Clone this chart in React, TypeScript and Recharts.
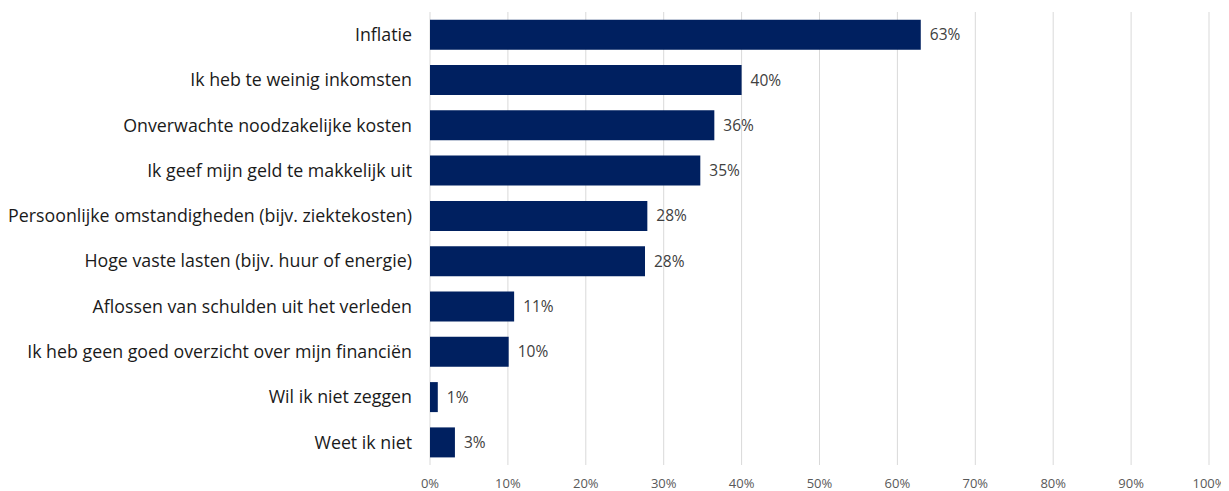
import { BarChart, Bar, XAxis, YAxis, CartesianGrid, LabelList } from 'recharts';

const categories = [
  'Inflatie',
  'Ik heb te weinig inkomsten',
  'Onverwachte noodzakelijke kosten',
  'Ik geef mijn geld te makkelijk uit',
  'Persoonlijke omstandigheden (bijv. ziektekosten)',
  'Hoge vaste lasten (bijv. huur of energie)',
  'Aflossen van schulden uit het verleden',
  'Ik heb geen goed overzicht over mijn financiën',
  'Wil ik niet zeggen',
  'Weet ik niet',
];

const shares = [63, 40, 36.5, 34.7, 27.9, 27.6, 10.8, 10.1, 1.0, 3.2];
const labels = ['63%', '40%', '36%', '35%', '28%', '28%', '11%', '10%', '1%', '3%'];
const xTicks = [0, 10, 20, 30, 40, 50, 60, 70, 80, 90, 100];

const data = categories.map((name, i) => ({ name, value: shares[i], label: labels[i] }));

const font = '"Open Sans", Lato, sans-serif';

export default function App() {
  return (
    <div style={{ fontFamily: font }}>
      <BarChart
        width={1221}
        height={483}
        data={data}
        layout="vertical"
        margin={{ top: 4, right: 20, left: 0, bottom: 0 }}
        barCategoryGap="17%"
      >
        <CartesianGrid horizontal={false} stroke="#d9d9d9" strokeWidth={1} />
        <XAxis
          type="number"
          domain={[0, 100]}
          ticks={xTicks}
          tickFormatter={(v) => `${v}%`}
          axisLine={false}
          tickLine={false}
          height={26}
          tickMargin={8}
          tick={{ fill: '#595959', fontSize: 13, fontFamily: font }}
        />
        <YAxis
          type="category"
          dataKey="name"
          width={422}
          axisLine={false}
          tickLine={false}
          tickMargin={12}
          interval={0}
          tick={{ fill: '#1a1a1a', fontSize: 17.8, fontFamily: font }}
        />
        <Bar dataKey="value" fill="#002060" isAnimationActive={false}>
          <LabelList
            dataKey="label"
            position="right"
            offset={9}
            style={{ fill: '#404040', fontSize: 15.5, fontFamily: font }}
          />
        </Bar>
      </BarChart>
    </div>
  );
}
